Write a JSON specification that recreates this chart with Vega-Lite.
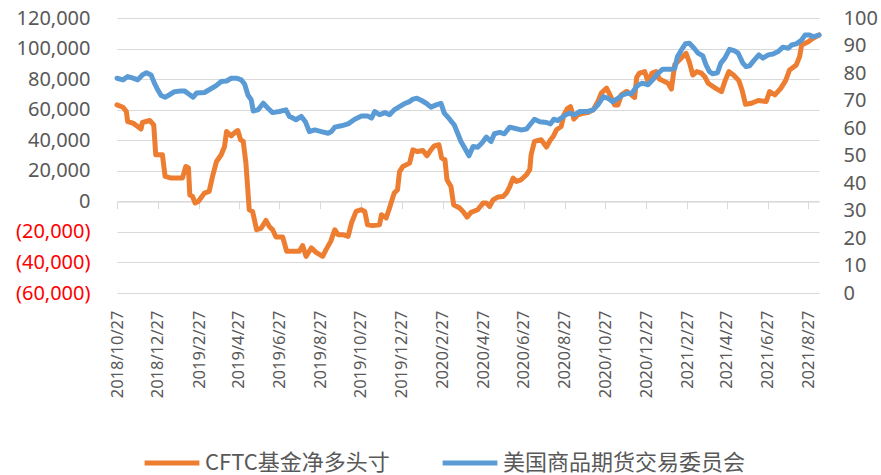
{
 "$schema": "https://vega.github.io/schema/vega-lite/v6.json",
 "width": 702,
 "height": 275,
 "autosize": "none",
 "padding": {"left": 117, "top": 18, "right": 62, "bottom": 182},
 "config": {"view": {"stroke": null}, "font": "Noto Sans"},
 "datasets": {
  "cftc": [
   {"date":"2018-10-27","v":63100},{"date":"2018-11-05","v":61600},{"date":"2018-11-10","v":58800},{"date":"2018-11-12","v":52200},{"date":"2018-11-20","v":51200},{"date":"2018-11-27","v":49000},{"date":"2018-12-02","v":47300},{"date":"2018-12-04","v":51600},{"date":"2018-12-15","v":52900},{"date":"2018-12-21","v":50000},{"date":"2018-12-24","v":30500},{"date":"2019-01-03","v":30500},{"date":"2019-01-07","v":16300},{"date":"2019-01-16","v":15200},{"date":"2019-02-02","v":15200},{"date":"2019-02-07","v":22800},{"date":"2019-02-11","v":21800},{"date":"2019-02-13","v":4300},{"date":"2019-02-17","v":3200},{"date":"2019-02-21","v":-1100},{"date":"2019-02-26","v":0},{"date":"2019-03-07","v":5400},{"date":"2019-03-14","v":6500},{"date":"2019-03-19","v":16300},{"date":"2019-03-25","v":26100},{"date":"2019-04-01","v":30500},{"date":"2019-04-06","v":35900},{"date":"2019-04-09","v":45700},{"date":"2019-04-16","v":42900},{"date":"2019-04-23","v":45700},{"date":"2019-04-26","v":46300},{"date":"2019-04-30","v":40300},{"date":"2019-05-04","v":39200},{"date":"2019-05-08","v":25000},{"date":"2019-05-13","v":-5500},{"date":"2019-05-18","v":-6600},{"date":"2019-05-24","v":-18600},{"date":"2019-05-31","v":-17500},{"date":"2019-06-07","v":-12500},{"date":"2019-06-12","v":-16400},{"date":"2019-06-17","v":-18600},{"date":"2019-06-22","v":-23300},{"date":"2019-07-02","v":-23300},{"date":"2019-07-08","v":-32700},{"date":"2019-07-27","v":-32700},{"date":"2019-08-01","v":-29000},{"date":"2019-08-06","v":-36000},{"date":"2019-08-14","v":-30500},{"date":"2019-08-21","v":-33400},{"date":"2019-08-31","v":-36000},{"date":"2019-09-05","v":-31600},{"date":"2019-09-12","v":-26200},{"date":"2019-09-18","v":-18600},{"date":"2019-09-23","v":-21800},{"date":"2019-09-30","v":-21800},{"date":"2019-10-08","v":-22900},{"date":"2019-10-13","v":-14200},{"date":"2019-10-20","v":-6600},{"date":"2019-10-28","v":-5500},{"date":"2019-11-02","v":-6600},{"date":"2019-11-06","v":-15300},{"date":"2019-11-14","v":-15900},{"date":"2019-11-24","v":-15300},{"date":"2019-11-27","v":-8800},{"date":"2019-12-04","v":-10900},{"date":"2019-12-09","v":-4400},{"date":"2019-12-16","v":5400},{"date":"2019-12-21","v":7600},{"date":"2019-12-24","v":19500},{"date":"2019-12-29","v":22800},{"date":"2020-01-08","v":25000},{"date":"2020-01-13","v":33700},{"date":"2020-01-20","v":32600},{"date":"2020-01-28","v":33300},{"date":"2020-02-03","v":29800},{"date":"2020-02-09","v":33700},{"date":"2020-02-14","v":36300},{"date":"2020-02-21","v":37000},{"date":"2020-02-25","v":28300},{"date":"2020-03-01","v":27200},{"date":"2020-03-04","v":14100},{"date":"2020-03-10","v":9700},{"date":"2020-03-14","v":-2200},{"date":"2020-03-23","v":-4400},{"date":"2020-03-28","v":-6600},{"date":"2020-04-03","v":-10300},{"date":"2020-04-09","v":-7200},{"date":"2020-04-19","v":-5500},{"date":"2020-04-27","v":-1100},{"date":"2020-05-02","v":-1100},{"date":"2020-05-07","v":-3300},{"date":"2020-05-12","v":1000},{"date":"2020-05-19","v":2800},{"date":"2020-05-27","v":3200},{"date":"2020-06-01","v":5400},{"date":"2020-06-06","v":9700},{"date":"2020-06-11","v":15200},{"date":"2020-06-16","v":13000},{"date":"2020-06-23","v":14100},{"date":"2020-07-01","v":17400},{"date":"2020-07-06","v":20700},{"date":"2020-07-08","v":30500},{"date":"2020-07-13","v":39200},{"date":"2020-07-23","v":40300},{"date":"2020-07-31","v":35500},{"date":"2020-08-06","v":40300},{"date":"2020-08-10","v":42400},{"date":"2020-08-15","v":46800},{"date":"2020-08-22","v":49000},{"date":"2020-08-26","v":56600},{"date":"2020-08-31","v":60500},{"date":"2020-09-05","v":62000},{"date":"2020-09-10","v":53800},{"date":"2020-09-16","v":56600},{"date":"2020-09-24","v":57700},{"date":"2020-10-01","v":58100},{"date":"2020-10-09","v":59900},{"date":"2020-10-16","v":65300},{"date":"2020-10-21","v":70800},{"date":"2020-10-29","v":74100},{"date":"2020-11-03","v":69700},{"date":"2020-11-10","v":63100},{"date":"2020-11-15","v":63100},{"date":"2020-11-20","v":69700},{"date":"2020-11-28","v":72000},{"date":"2020-12-05","v":69700},{"date":"2020-12-10","v":68000},{"date":"2020-12-13","v":81000},{"date":"2020-12-17","v":83900},{"date":"2020-12-25","v":84900},{"date":"2020-12-30","v":78400},{"date":"2021-01-05","v":83900},{"date":"2021-01-11","v":84900},{"date":"2021-01-16","v":80000},{"date":"2021-01-29","v":77300},{"date":"2021-02-03","v":73500},{"date":"2021-02-08","v":89500},{"date":"2021-02-15","v":92500},{"date":"2021-02-25","v":96900},{"date":"2021-03-02","v":91000},{"date":"2021-03-07","v":82700},{"date":"2021-03-13","v":84900},{"date":"2021-03-20","v":83900},{"date":"2021-03-25","v":81600},{"date":"2021-03-30","v":77300},{"date":"2021-04-11","v":73800},{"date":"2021-04-19","v":71800},{"date":"2021-04-24","v":78500},{"date":"2021-04-30","v":84900},{"date":"2021-05-07","v":82700},{"date":"2021-05-15","v":79000},{"date":"2021-05-20","v":72500},{"date":"2021-05-25","v":63500},{"date":"2021-06-03","v":64200},{"date":"2021-06-13","v":66000},{"date":"2021-06-25","v":65300},{"date":"2021-06-30","v":71800},{"date":"2021-07-08","v":69700},{"date":"2021-07-17","v":74100},{"date":"2021-07-24","v":79000},{"date":"2021-07-30","v":86000},{"date":"2021-08-09","v":89300},{"date":"2021-08-14","v":94700},{"date":"2021-08-17","v":102400},{"date":"2021-08-27","v":104500},{"date":"2021-09-03","v":106700},{"date":"2021-09-12","v":108900}
  ],
  "comm": [
   {"date":"2018-10-27","v":78.1},{"date":"2018-11-05","v":77.5},{"date":"2018-11-12","v":78.7},{"date":"2018-11-20","v":78.1},{"date":"2018-11-27","v":77.5},{"date":"2018-12-04","v":79.3},{"date":"2018-12-10","v":80.1},{"date":"2018-12-17","v":79.3},{"date":"2018-12-22","v":76.3},{"date":"2018-12-27","v":73.9},{"date":"2019-01-01","v":71.8},{"date":"2019-01-07","v":71.2},{"date":"2019-01-13","v":72.0},{"date":"2019-01-21","v":73.2},{"date":"2019-01-31","v":73.5},{"date":"2019-02-05","v":73.5},{"date":"2019-02-12","v":72.3},{"date":"2019-02-18","v":71.2},{"date":"2019-02-23","v":72.7},{"date":"2019-03-07","v":72.9},{"date":"2019-03-14","v":73.9},{"date":"2019-03-24","v":75.3},{"date":"2019-04-01","v":76.9},{"date":"2019-04-09","v":77.1},{"date":"2019-04-16","v":78.1},{"date":"2019-04-24","v":78.1},{"date":"2019-05-01","v":77.5},{"date":"2019-05-06","v":76.0},{"date":"2019-05-11","v":72.0},{"date":"2019-05-16","v":70.2},{"date":"2019-05-19","v":66.2},{"date":"2019-05-26","v":66.6},{"date":"2019-06-03","v":69.0},{"date":"2019-06-10","v":67.2},{"date":"2019-06-17","v":65.6},{"date":"2019-06-27","v":66.0},{"date":"2019-07-07","v":66.6},{"date":"2019-07-12","v":64.2},{"date":"2019-07-15","v":63.9},{"date":"2019-07-22","v":63.0},{"date":"2019-07-30","v":64.2},{"date":"2019-08-05","v":62.3},{"date":"2019-08-11","v":58.7},{"date":"2019-08-19","v":59.3},{"date":"2019-08-29","v":58.7},{"date":"2019-09-08","v":58.1},{"date":"2019-09-13","v":58.7},{"date":"2019-09-18","v":60.3},{"date":"2019-09-28","v":60.8},{"date":"2019-10-08","v":61.5},{"date":"2019-10-18","v":63.2},{"date":"2019-10-28","v":64.4},{"date":"2019-11-06","v":64.4},{"date":"2019-11-12","v":63.6},{"date":"2019-11-17","v":66.0},{"date":"2019-11-24","v":64.8},{"date":"2019-12-02","v":65.6},{"date":"2019-12-09","v":64.8},{"date":"2019-12-16","v":66.6},{"date":"2019-12-24","v":67.8},{"date":"2019-12-31","v":68.8},{"date":"2020-01-08","v":69.6},{"date":"2020-01-13","v":70.5},{"date":"2020-01-19","v":70.8},{"date":"2020-01-26","v":70.0},{"date":"2020-02-02","v":69.0},{"date":"2020-02-09","v":67.6},{"date":"2020-02-17","v":68.4},{"date":"2020-02-24","v":69.0},{"date":"2020-02-29","v":65.4},{"date":"2020-03-08","v":63.2},{"date":"2020-03-15","v":61.1},{"date":"2020-03-20","v":58.1},{"date":"2020-03-25","v":55.1},{"date":"2020-04-01","v":52.1},{"date":"2020-04-06","v":49.9},{"date":"2020-04-12","v":53.3},{"date":"2020-04-19","v":53.0},{"date":"2020-04-26","v":54.7},{"date":"2020-05-02","v":56.7},{"date":"2020-05-09","v":55.1},{"date":"2020-05-14","v":57.9},{"date":"2020-05-22","v":58.4},{"date":"2020-05-29","v":57.9},{"date":"2020-06-06","v":60.3},{"date":"2020-06-13","v":59.9},{"date":"2020-06-23","v":59.3},{"date":"2020-07-01","v":59.6},{"date":"2020-07-06","v":61.1},{"date":"2020-07-13","v":63.2},{"date":"2020-07-21","v":62.3},{"date":"2020-07-31","v":62.0},{"date":"2020-08-06","v":61.5},{"date":"2020-08-11","v":63.2},{"date":"2020-08-17","v":62.7},{"date":"2020-08-22","v":63.6},{"date":"2020-08-29","v":64.8},{"date":"2020-09-04","v":65.4},{"date":"2020-09-11","v":64.8},{"date":"2020-09-19","v":66.0},{"date":"2020-10-01","v":66.0},{"date":"2020-10-09","v":66.6},{"date":"2020-10-16","v":68.4},{"date":"2020-10-24","v":71.4},{"date":"2020-10-31","v":70.8},{"date":"2020-11-07","v":69.6},{"date":"2020-11-15","v":70.8},{"date":"2020-11-22","v":72.0},{"date":"2020-11-30","v":72.7},{"date":"2020-12-05","v":72.4},{"date":"2020-12-13","v":75.1},{"date":"2020-12-17","v":75.8},{"date":"2020-12-22","v":76.3},{"date":"2020-12-30","v":75.7},{"date":"2021-01-06","v":77.5},{"date":"2021-01-14","v":79.9},{"date":"2021-01-21","v":81.4},{"date":"2021-02-03","v":81.4},{"date":"2021-02-08","v":81.7},{"date":"2021-02-12","v":85.9},{"date":"2021-02-18","v":88.4},{"date":"2021-02-24","v":90.6},{"date":"2021-03-02","v":90.8},{"date":"2021-03-09","v":89.0},{"date":"2021-03-15","v":87.2},{"date":"2021-03-22","v":86.2},{"date":"2021-03-27","v":82.9},{"date":"2021-04-01","v":80.5},{"date":"2021-04-06","v":79.7},{"date":"2021-04-13","v":80.1},{"date":"2021-04-18","v":83.6},{"date":"2021-04-24","v":85.4},{"date":"2021-05-01","v":88.6},{"date":"2021-05-08","v":88.1},{"date":"2021-05-14","v":87.2},{"date":"2021-05-21","v":83.6},{"date":"2021-05-26","v":82.3},{"date":"2021-05-31","v":82.6},{"date":"2021-06-07","v":84.7},{"date":"2021-06-14","v":86.6},{"date":"2021-06-20","v":85.4},{"date":"2021-06-28","v":86.6},{"date":"2021-07-05","v":86.9},{"date":"2021-07-13","v":87.8},{"date":"2021-07-20","v":89.4},{"date":"2021-07-28","v":89.0},{"date":"2021-08-02","v":90.2},{"date":"2021-08-09","v":90.6},{"date":"2021-08-17","v":92.0},{"date":"2021-08-22","v":93.8},{"date":"2021-08-29","v":93.8},{"date":"2021-09-03","v":93.2},{"date":"2021-09-08","v":93.5},{"date":"2021-09-12","v":93.8}
  ]
 },
 "layer": [
  {
   "data": {"name": "cftc"},
   "mark": {"type": "line", "strokeWidth": 5, "strokeJoin": "round", "strokeCap": "round"},
   "encoding": {
    "x": {
     "field": "date", "type": "temporal",
     "scale": {"type": "utc", "domain": [{"year": 2018, "month": 10, "date": 27, "utc": true}, {"year": 2021, "month": 9, "date": 12, "utc": true}]},
     "axis": {
      "orient": "bottom", "title": null, "grid": false, "ticks": false, "domain": false,
      "values": [
       {"year":2018,"month":10,"date":27,"utc":true},{"year":2018,"month":12,"date":27,"utc":true},
       {"year":2019,"month":2,"date":27,"utc":true},{"year":2019,"month":4,"date":27,"utc":true},{"year":2019,"month":6,"date":27,"utc":true},{"year":2019,"month":8,"date":27,"utc":true},{"year":2019,"month":10,"date":27,"utc":true},{"year":2019,"month":12,"date":27,"utc":true},
       {"year":2020,"month":2,"date":27,"utc":true},{"year":2020,"month":4,"date":27,"utc":true},{"year":2020,"month":6,"date":27,"utc":true},{"year":2020,"month":8,"date":27,"utc":true},{"year":2020,"month":10,"date":27,"utc":true},{"year":2020,"month":12,"date":27,"utc":true},
       {"year":2021,"month":2,"date":27,"utc":true},{"year":2021,"month":4,"date":27,"utc":true},{"year":2021,"month":6,"date":27,"utc":true},{"year":2021,"month":8,"date":27,"utc":true}
      ],
      "labelExpr": "utcFormat(datum.value, '%Y/%-m/%-d')",
      "labelAngle": -90, "labelFontSize": 16.5, "labelColor": "#595959", "labelPadding": 17, "labelOverlap": false, "labelFlush": false
     }
    },
    "y": {
     "field": "v", "type": "quantitative",
     "scale": {"domain": [-60000, 120000], "nice": false, "zero": false},
     "axis": {
      "title": null, "values": [-60000, -40000, -20000, 0, 20000, 40000, 60000, 80000, 100000, 120000],
      "labelExpr": "datum.value < 0 ? '(' + format(-datum.value, ',') + ')' : format(datum.value, ',')",
      "labelColor": {"condition": {"test": "datum.value < 0", "value": "#FF0000"}, "value": "#595959"},
      "labelFontSize": 20, "labelPadding": 27, "domain": false, "ticks": false,
      "grid": true, "gridColor": "#D9D9D9", "gridWidth": 1
     }
    },
    "color": {
     "datum": "CFTC基金净多头寸",
     "scale": {"domain": ["CFTC基金净多头寸", "美国商品期货交易委员会"], "range": ["#ED7D31", "#5B9BD5"]},
     "legend": {
      "orient": "none", "legendX": 25, "legendY": 415, "direction": "horizontal", "title": null,
      "symbolType": "stroke", "symbolStrokeWidth": 5, "symbolSize": 3000,
      "labelFont": "Noto Sans CJK SC", "labelFontSize": 22, "labelColor": "#595959", "labelLimit": 400,
      "labelOffset": 3, "columnPadding": 42
     }
    }
   }
  },
  {
   "data": {"name": "comm"},
   "mark": {"type": "line", "strokeWidth": 5, "strokeJoin": "round", "strokeCap": "round"},
   "encoding": {
    "x": {
     "field": "date", "type": "temporal",
     "axis": {
      "orient": "bottom", "offset": -91.4, "title": null, "grid": false, "labels": false,
      "ticks": true, "tickSize": 7, "tickColor": "#D9D9D9", "domain": true, "domainColor": "#D9D9D9",
      "values": [
       {"year":2018,"month":10,"date":27,"utc":true},{"year":2018,"month":12,"date":27,"utc":true},
       {"year":2019,"month":2,"date":27,"utc":true},{"year":2019,"month":4,"date":27,"utc":true},{"year":2019,"month":6,"date":27,"utc":true},{"year":2019,"month":8,"date":27,"utc":true},{"year":2019,"month":10,"date":27,"utc":true},{"year":2019,"month":12,"date":27,"utc":true},
       {"year":2020,"month":2,"date":27,"utc":true},{"year":2020,"month":4,"date":27,"utc":true},{"year":2020,"month":6,"date":27,"utc":true},{"year":2020,"month":8,"date":27,"utc":true},{"year":2020,"month":10,"date":27,"utc":true},{"year":2020,"month":12,"date":27,"utc":true},
       {"year":2021,"month":2,"date":27,"utc":true},{"year":2021,"month":4,"date":27,"utc":true},{"year":2021,"month":6,"date":27,"utc":true},{"year":2021,"month":8,"date":27,"utc":true}
      ]
     }
    },
    "y": {
     "field": "v", "type": "quantitative",
     "scale": {"domain": [0, 100], "nice": false},
     "axis": {
      "orient": "right", "title": null, "values": [0, 10, 20, 30, 40, 50, 60, 70, 80, 90, 100],
      "labelFontSize": 20, "labelColor": "#595959", "labelPadding": 24,
      "domain": false, "ticks": false, "grid": false
     }
    },
    "color": {"datum": "美国商品期货交易委员会"}
   }
  }
 ],
 "resolve": {"scale": {"y": "independent"}, "axis": {"x": "independent"}}
}
